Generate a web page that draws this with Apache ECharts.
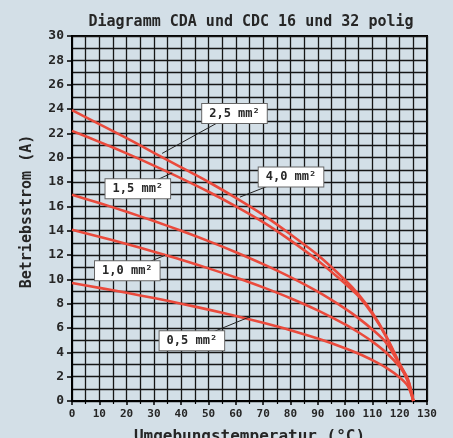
<!DOCTYPE html>
<html>
<head>
<meta charset="utf-8">
<style>
  html, body { margin: 0; padding: 0; background: #d3dfe7; }
  #chart { width: 453px; height: 438px; }
</style>
<script src="https://cdn.jsdelivr.net/npm/echarts@6/dist/echarts.min.js"></script>
</head>
<body>
<div id="chart"></div>
<script>
  var temps = [0, 10, 20, 30, 40, 50, 60, 70, 80, 90, 100, 105, 110, 115, 120, 123, 125];

  // top curve first
  var curve40 = [23.9, 22.75, 21.6, 20.4, 19.2, 18.0, 16.7, 15.3, 13.7, 12.0, 9.95, 8.75, 7.25, 5.35, 3.05, 1.65, 0];
  var curve25 = [22.2, 21.3, 20.35, 19.35, 18.3, 17.2, 16.0, 14.7, 13.2, 11.55, 9.65, 8.6, 7.15, 5.3, 3.0, 1.6, 0];
  var curve15 = [16.96, 16.27, 15.55, 14.79, 13.99, 13.14, 12.23, 11.25, 10.18, 8.98, 7.59, 6.79, 5.88, 4.8, 3.0, 1.8, 0];
  var curve10 = [14.08, 13.5, 12.9, 12.27, 11.61, 10.9, 10.15, 9.34, 8.45, 7.45, 6.3, 5.63, 4.88, 3.98, 2.8, 1.75, 0];
  var curve05 = [9.7, 9.3, 8.89, 8.46, 8.0, 7.51, 6.99, 6.43, 5.82, 5.13, 4.34, 3.88, 3.36, 2.74, 1.94, 1.23, 0];

  var seriesNames = ['4,0 mm²', '2,5 mm²', '1,5 mm²', '1,0 mm²', '0,5 mm²'];
  var seriesValues = [curve40, curve25, curve15, curve10, curve05];

  // label boxes: centre and leader tip, in data units
  var noteTexts = ['2,5 mm²', '4,0 mm²', '1,5 mm²', '1,0 mm²', '0,5 mm²'];
  var noteCentres = [[59.5, 23.64], [80.2, 18.41], [24.1, 17.45], [20.25, 10.71], [43.9, 4.96]];
  var noteTips = [[33, 20.35], [61.5, 16.76], [36.7, 18.75], [34.05, 11.97], [64.9, 6.9]];

  var bg = '#d3dfe7';
  var red = '#ea4a3c';
  var mono = '"DejaVu Sans Mono", monospace';
  var gridLine = { color: '#161616', width: 1.3 };

  var chart = echarts.init(document.getElementById('chart'), null, { renderer: 'canvas' });

  var series = seriesNames.map(function (name, i) {
    return {
      name: name,
      type: 'line',
      data: temps.map(function (t, j) { return [t, seriesValues[i][j]]; }),
      smooth: 0.3,
      showSymbol: false,
      lineStyle: { color: red, width: 2.6 },
      z: 5,
      silent: true
    };
  });

  chart.setOption({
    backgroundColor: bg,
    animation: false,
    title: {
      text: 'Diagramm CDA und CDC 16 und 32 polig',
      left: 246,
      top: 10,
      textAlign: 'center',
      textStyle: { fontFamily: mono, fontWeight: 'bold', fontSize: 15, color: '#262626' }
    },
    grid: {
      left: 72, right: 26, top: 36, bottom: 37,
      outerBoundsMode: 'none',
      containLabel: false,
      show: true,
      backgroundColor: bg,
      borderColor: '#000',
      borderWidth: 2
    },
    xAxis: {
      type: 'value',
      min: 0, max: 130, interval: 10,
      name: 'Umgebungstemperatur (°C)',
      nameLocation: 'middle',
      nameGap: 28,
      nameTextStyle: { fontFamily: mono, fontWeight: 'bold', fontSize: 16, color: '#262626' },
      axisLine: { show: true, lineStyle: { color: '#000', width: 2 } },
      axisTick: { show: true, length: 4, lineStyle: { color: '#000', width: 1.5 } },
      minorTick: { show: true, splitNumber: 2, length: 3, lineStyle: { color: '#000', width: 1.2 } },
      axisLabel: { fontFamily: mono, fontWeight: 'bold', fontSize: 11, color: '#262626', margin: 8 },
      splitLine: { show: true, lineStyle: gridLine },
      minorSplitLine: { show: true, lineStyle: gridLine }
    },
    yAxis: {
      type: 'value',
      min: 0, max: 30, interval: 2,
      name: 'Betriebsstrom (A)',
      nameLocation: 'middle',
      nameGap: 37,
      nameTextStyle: { fontFamily: mono, fontWeight: 'bold', fontSize: 15, color: '#262626', padding: [0, 0, 0, 14] },
      axisLine: { show: true, lineStyle: { color: '#000', width: 2 } },
      axisTick: { show: true, length: 5, lineStyle: { color: '#000', width: 1.5 } },
      axisLabel: { fontFamily: mono, fontWeight: 'bold', fontSize: 13, color: '#262626', margin: 8 },
      splitLine: { show: true, lineStyle: gridLine },
      minorSplitLine: { show: true, lineStyle: gridLine },
      minorTick: { show: false, splitNumber: 2 }
    },
    series: series
  });

  // label boxes with leader lines, placed through the grid's own scale
  var graphics = [];
  noteTexts.forEach(function (txt, i) {
    var c = chart.convertToPixel({ gridIndex: 0 }, noteCentres[i]);
    var tip = chart.convertToPixel({ gridIndex: 0 }, noteTips[i]);
    graphics.push({
      type: 'line',
      shape: { x1: c[0], y1: c[1], x2: tip[0], y2: tip[1] },
      style: { stroke: '#222', lineWidth: 1 },
      z: 10
    });
    graphics.push({
      type: 'text',
      x: c[0], y: c[1],
      style: {
        text: txt,
        fontFamily: mono,
        fontWeight: 'bold',
        fontSize: 12,
        fill: '#262626',
        align: 'center',
        verticalAlign: 'middle',
        backgroundColor: '#fff',
        borderColor: '#666',
        borderWidth: 1,
        padding: [4, 7, 3, 7]
      },
      z: 11
    });
  });
  chart.setOption({ graphic: graphics });
</script>
</body>
</html>
